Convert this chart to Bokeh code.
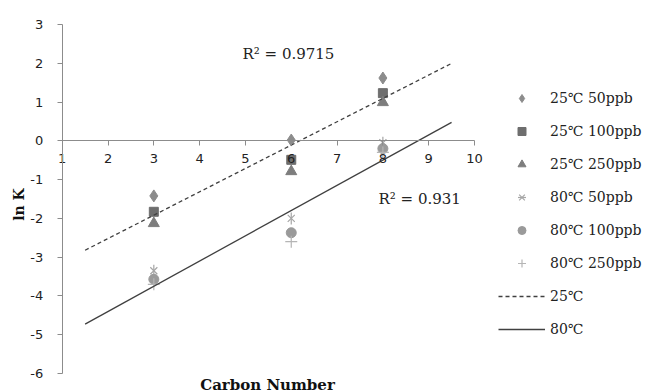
import numpy as np
from bokeh.plotting import figure
from bokeh.models import (Range1d, FixedTicker, Legend, LegendItem, Label, LinearAxis,
                          PrintfTickFormatter)
from bokeh.embed import file_html
from bokeh.resources import INLINE

# ---- data ----
carbon = [3, 6, 8]
s25_50 = [-1.42, 0.02, 1.62]
s25_100 = [-1.83, -0.49, 1.23]
s25_250 = [-2.13, -0.79, 0.99]
s80_50 = [-3.35, -2.00, -0.05]
s80_100 = [-3.57, -2.37, -0.20]
s80_250 = [-3.70, -2.60, -0.30]
fit_x = [1.5, 9.5]
x_ticks = list(range(1, 11))
y_ticks = list(range(-6, 4))
series_labels = ["25℃ 50ppb", "25℃ 100ppb", "25℃ 250ppb",
                 "80℃ 50ppb", "80℃ 100ppb", "80℃ 250ppb"]
line_labels = ["25℃", "80℃"]
r2_25 = "R² = 0.9715"
r2_80 = "R² = 0.931"

# trend lines (least squares on the mean of each temperature group)
m25 = np.mean([s25_50, s25_100, s25_250], axis=0)
m80 = np.mean([s80_50, s80_100, s80_250], axis=0)
k25, b25 = np.polyfit(carbon, m25, 1)
k80, b80 = np.polyfit(carbon, m80, 1)
fit25 = [k25 * x + b25 for x in fit_x]
fit80 = [k80 * x + b80 for x in fit_x]

# ---- layout (pixels) ----
W, H = 650, 392
AX_L, AX_R, AX_T, AX_B = 61.7, 474.0, 24.0, 373.0
XMIN, XMAX, YMIN, YMAX = 1, 10, -6, 3
sx = (AX_R - AX_L) / (XMAX - XMIN)
sy = (AX_B - AX_T) / (YMAX - YMIN)
x_lo = XMIN - AX_L / sx
x_hi = XMAX + (W - AX_R) / sx
y_hi = YMAX + AX_T / sy
y_lo = YMIN - (H - AX_B) / sy


def px_x(px):
    return x_lo + px / sx


def px_y(py):
    return y_hi - py / sy


SERIF = "DejaVu Serif"
SANS = "DejaVu Sans"
AX = "#8c8c8c"

p = figure(width=W, height=H, x_range=Range1d(x_lo, x_hi), y_range=Range1d(y_lo, y_hi),
           output_backend="svg", toolbar_location=None,
           x_axis_location=None, y_axis_location=None,
           min_border_left=0, min_border_right=0, min_border_top=0, min_border_bottom=0)
p.outline_line_color = None
p.xgrid.visible = False
p.ygrid.visible = False
p.background_fill_color = "white"
p.border_fill_color = "white"

yaxis = LinearAxis(ticker=FixedTicker(ticks=y_ticks), fixed_location=XMIN, bounds=(YMIN, YMAX),
                   formatter=PrintfTickFormatter(format="%d"))
yaxis.axis_line_color = AX
yaxis.major_tick_line_color = AX
yaxis.major_tick_out = 5
yaxis.major_tick_in = 0
yaxis.minor_tick_line_color = None
yaxis.major_label_standoff = 14
yaxis.major_label_text_font = SANS
yaxis.major_label_text_font_size = "13px"
yaxis.major_label_text_color = "#222222"
p.add_layout(yaxis, "left")

xaxis = LinearAxis(ticker=FixedTicker(ticks=x_ticks), fixed_location=0, bounds=(XMIN, XMAX),
                   formatter=PrintfTickFormatter(format="%d"))
xaxis.axis_line_color = AX
xaxis.major_tick_line_color = AX
xaxis.major_tick_out = 5
xaxis.major_tick_in = 0
xaxis.minor_tick_line_color = None
xaxis.major_label_standoff = 8
xaxis.major_label_text_font = SANS
xaxis.major_label_text_font_size = "13px"
xaxis.major_label_text_color = "#222222"
p.add_layout(xaxis, "below")

r1 = p.scatter(carbon, s25_50, marker="diamond", size=12, fill_color="#8c8c8c", line_color="#8c8c8c")
r2 = p.scatter(carbon, s25_100, marker="square", size=9, fill_color="#6e6e6e", line_color="#6e6e6e")
r3 = p.scatter(carbon, s25_250, marker="triangle", size=11, fill_color="#7d7d7d", line_color="#7d7d7d")
r4a = p.scatter(carbon, s80_50, marker="x", size=10, line_color="#a6a6a6", line_width=1.2)
r4b = p.scatter(carbon, s80_50, marker="dash", angle=np.pi / 2, size=12, line_color="#a6a6a6", line_width=1.2)
r5 = p.scatter(carbon, s80_100, marker="circle", size=10, fill_color="#9a9a9a", line_color="#9a9a9a")
r6 = p.scatter(carbon, s80_250, marker="cross", size=12, line_color="#b5b5b5", line_width=1.2)

l25 = p.line(fit_x, fit25, line_color="#404040", line_width=1.3, line_dash="4 3")
l80 = p.line(fit_x, fit80, line_color="#404040", line_width=1.3)

p.add_layout(Label(x=px_x(242), y=px_y(53), text=r2_25, text_baseline="middle", text_font=SERIF,
                   text_font_size="15px", text_color="#222222"))
p.add_layout(Label(x=px_x(378), y=px_y(198), text=r2_80, text_baseline="middle", text_font=SERIF,
                   text_font_size="15px", text_color="#222222"))
p.add_layout(Label(x=px_x(267), y=px_y(384), text="Carbon Number", text_align="center",
                   text_baseline="middle", text_font=SERIF, text_font_style="bold",
                   text_font_size="15px", text_color="#111111"))
p.add_layout(Label(x=px_x(18), y=px_y(204), text="ln K", text_align="center", angle=np.pi / 2,
                   text_baseline="middle", text_font=SERIF, text_font_style="bold",
                   text_font_size="14px", text_color="#111111"))

items = [
    LegendItem(label=series_labels[0], renderers=[r1]),
    LegendItem(label=series_labels[1], renderers=[r2]),
    LegendItem(label=series_labels[2], renderers=[r3]),
    LegendItem(label=series_labels[3], renderers=[r4a, r4b]),
    LegendItem(label=series_labels[4], renderers=[r5]),
    LegendItem(label=series_labels[5], renderers=[r6]),
    LegendItem(label=line_labels[0], renderers=[l25]),
    LegendItem(label=line_labels[1], renderers=[l80]),
]
LEG_L, LEG_T, ITEM_H, GAP = 498, 87.7, 20, 13
leg_h = len(items) * ITEM_H + (len(items) - 1) * GAP
legend = Legend(items=items, location=(LEG_L, H - LEG_T - leg_h), glyph_width=47,
                glyph_height=ITEM_H, label_height=ITEM_H,
                spacing=GAP, padding=0, margin=0, label_standoff=5, border_line_color=None,
                background_fill_alpha=0, label_text_font=SERIF, label_text_font_size="14px",
                label_text_color="#222222")
p.add_layout(legend, "center")

open("out.html", "w").write(file_html(p, INLINE))
